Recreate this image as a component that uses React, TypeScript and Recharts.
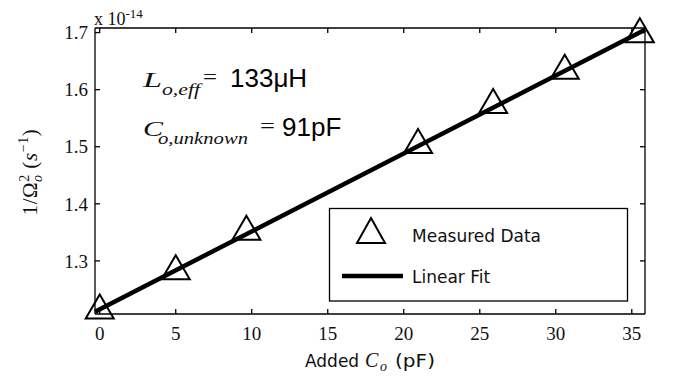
import React from "react";
import { ComposedChart, Scatter, Line, XAxis, YAxis } from "recharts";

// added capacitance (pF) vs 1/Omega^2 (x 1e-14)
const addedCapPF = [0, 5, 9.65, 20.94, 25.88, 30.59, 35.53];
const invOmegaSq = [1.22, 1.289, 1.358, 1.51, 1.58, 1.64, 1.704];
const fitCapPF = [-0.31, 35.87];
const fitInvOmegaSq = [1.211, 1.705];
const xTicks = [0, 5, 10, 15, 20, 25, 30, 35];
const yTicks = [1.3, 1.4, 1.5, 1.6, 1.7];

const SERIF = "'Liberation Serif', 'DejaVu Serif', serif";
const SANS = "'DejaVu Sans', sans-serif";
const ARIAL = "'Liberation Sans', Arial, sans-serif";

const measured = addedCapPF.map((x, i) => ({ x, y: invOmegaSq[i] }));
const fit = fitCapPF.map((x, i) => ({ x, y: fitInvOmegaSq[i] }));

const Triangle = (props: any) => {
  const { cx, cy } = props;
  return (
    <path
      d={`M${cx},${cy - 12} L${cx + 14},${cy + 12} L${cx - 14},${cy + 12} Z`}
      fill="none"
      stroke="#000"
      strokeWidth={2}
    />
  );
};

const tickStyle = { fill: "#111", fontSize: 19, fontFamily: SERIF };

export default function App() {
  return (
    <div style={{ position: "absolute", left: 0, top: 0, width: 673, height: 381, background: "#fff" }}>
      <ComposedChart width={673} height={381} data={measured} margin={{ top: 26, right: 26, bottom: 27, left: 0 }}>
        <XAxis
          xAxisId="b"
          type="number"
          dataKey="x"
          domain={[-0.31, 35.87]}
          ticks={xTicks}
          height={40}
          tickSize={-5}
          tickMargin={18}
          stroke="#000"
          strokeWidth={1.3}
          tick={tickStyle}
        />
        <XAxis
          xAxisId="t"
          orientation="top"
          type="number"
          dataKey="x"
          domain={[-0.31, 35.87]}
          ticks={xTicks}
          height={2}
          tickSize={-5}
          tickFormatter={() => ""}
          stroke="#000"
          strokeWidth={1.3}
        />
        <YAxis
          yAxisId="l"
          type="number"
          dataKey="y"
          domain={[1.207, 1.708]}
          ticks={yTicks}
          width={95}
          tickSize={-5}
          tickMargin={12}
          stroke="#000"
          strokeWidth={1.3}
          tick={tickStyle}
          tickFormatter={(v: number) => v.toFixed(1)}
        />
        <YAxis
          yAxisId="r"
          orientation="right"
          type="number"
          dataKey="y"
          domain={[1.207, 1.708]}
          ticks={yTicks}
          width={2}
          tickSize={-5}
          tickFormatter={() => ""}
          stroke="#000"
          strokeWidth={1.3}
        />
        <Scatter
          xAxisId="b"
          yAxisId="l"
          data={measured}
          dataKey="y"
          shape={Triangle}
          isAnimationActive={false}
        />
        <Line
          xAxisId="b"
          yAxisId="l"
          data={fit}
          dataKey="y"
          stroke="#000"
          strokeWidth={4.5}
          dot={false}
          activeDot={false}
          isAnimationActive={false}
        />
      </ComposedChart>

      <svg width={673} height={381} style={{ position: "absolute", left: 0, top: 0, pointerEvents: "none" }}>
        {/* exponent */}
        <text x={94} y={25} fontFamily={SERIF} fontSize={18} fill="#111">
          x 10<tspan dy={-7} fontSize={13}>-14</tspan>
        </text>

        {/* y label */}
        <text
          transform="translate(37,172) rotate(-90)"
          textAnchor="middle"
          fontFamily={SERIF}
          fontSize={21}
          fill="#111"
          letterSpacing={0.6}
        >
          1/Ω<tspan dy={-8} fontSize={14}>2</tspan>
          <tspan dx={-8} dy={13} fontSize={14} fontStyle="italic">o</tspan>
          <tspan dy={-5}> (</tspan>
          <tspan fontStyle="italic">s</tspan>
          <tspan dy={-9} fontSize={14}>−1</tspan>
          <tspan dy={9}>)</tspan>
        </text>

        {/* x label */}
        <text x={305} y={367} fontFamily={SANS} fontSize={17} fill="#111">Added</text>
        <text x={365} y={367} fontFamily={SERIF} fontStyle="italic" fontSize={20} fill="#111">C</text>
        <text x={380} y={371} fontFamily={SERIF} fontStyle="italic" fontSize={14} fill="#111">o</text>
        <text x={395} y={367} fontFamily={SANS} fontSize={17} textLength={40} lengthAdjust="spacingAndGlyphs" fill="#111">(pF)</text>

        {/* annotations */}
        <text x={143} y={87} fontFamily={SERIF} fontStyle="italic" fontSize={21} textLength={19} lengthAdjust="spacingAndGlyphs" fill="#111">L</text>
        <text x={162} y={95} fontFamily={SERIF} fontStyle="italic" fontSize={16} textLength={38} lengthAdjust="spacingAndGlyphs" fill="#111">o,eff</text>
        <text x={203} y={84} fontFamily={SERIF} fontSize={22} textLength={14} lengthAdjust="spacingAndGlyphs" fill="#111">=</text>
        <text x={230} y={86.7} fontFamily={ARIAL} fontSize={26} fill="#000">133μH</text>

        <text x={143} y={136} fontFamily={SERIF} fontStyle="italic" fontSize={21} textLength={20} lengthAdjust="spacingAndGlyphs" fill="#111">C</text>
        <text x={158} y={144} fontFamily={SERIF} fontStyle="italic" fontSize={16} textLength={90} lengthAdjust="spacingAndGlyphs" fill="#111">o,unknown</text>
        <text x={260} y={133} fontFamily={SERIF} fontSize={22} textLength={15} lengthAdjust="spacingAndGlyphs" fill="#111">=</text>
        <text x={282} y={135.5} fontFamily={ARIAL} fontSize={26} fill="#000">91pF</text>

        {/* legend */}
        <rect x={329.5} y={208.5} width={298} height={92.5} fill="#fff" stroke="#000" strokeWidth={1.3} />
        <path d="M371,218 L385,243 L357,243 Z" fill="none" stroke="#000" strokeWidth={2} />
        <text x={412} y={242} fontFamily={SANS} fontSize={17} fill="#111">Measured Data</text>
        <line x1={342} y1={276} x2={403} y2={276} stroke="#000" strokeWidth={4.5} />
        <text x={412} y={283} fontFamily={SANS} fontSize={17} fill="#111">Linear Fit</text>
      </svg>
    </div>
  );
}
